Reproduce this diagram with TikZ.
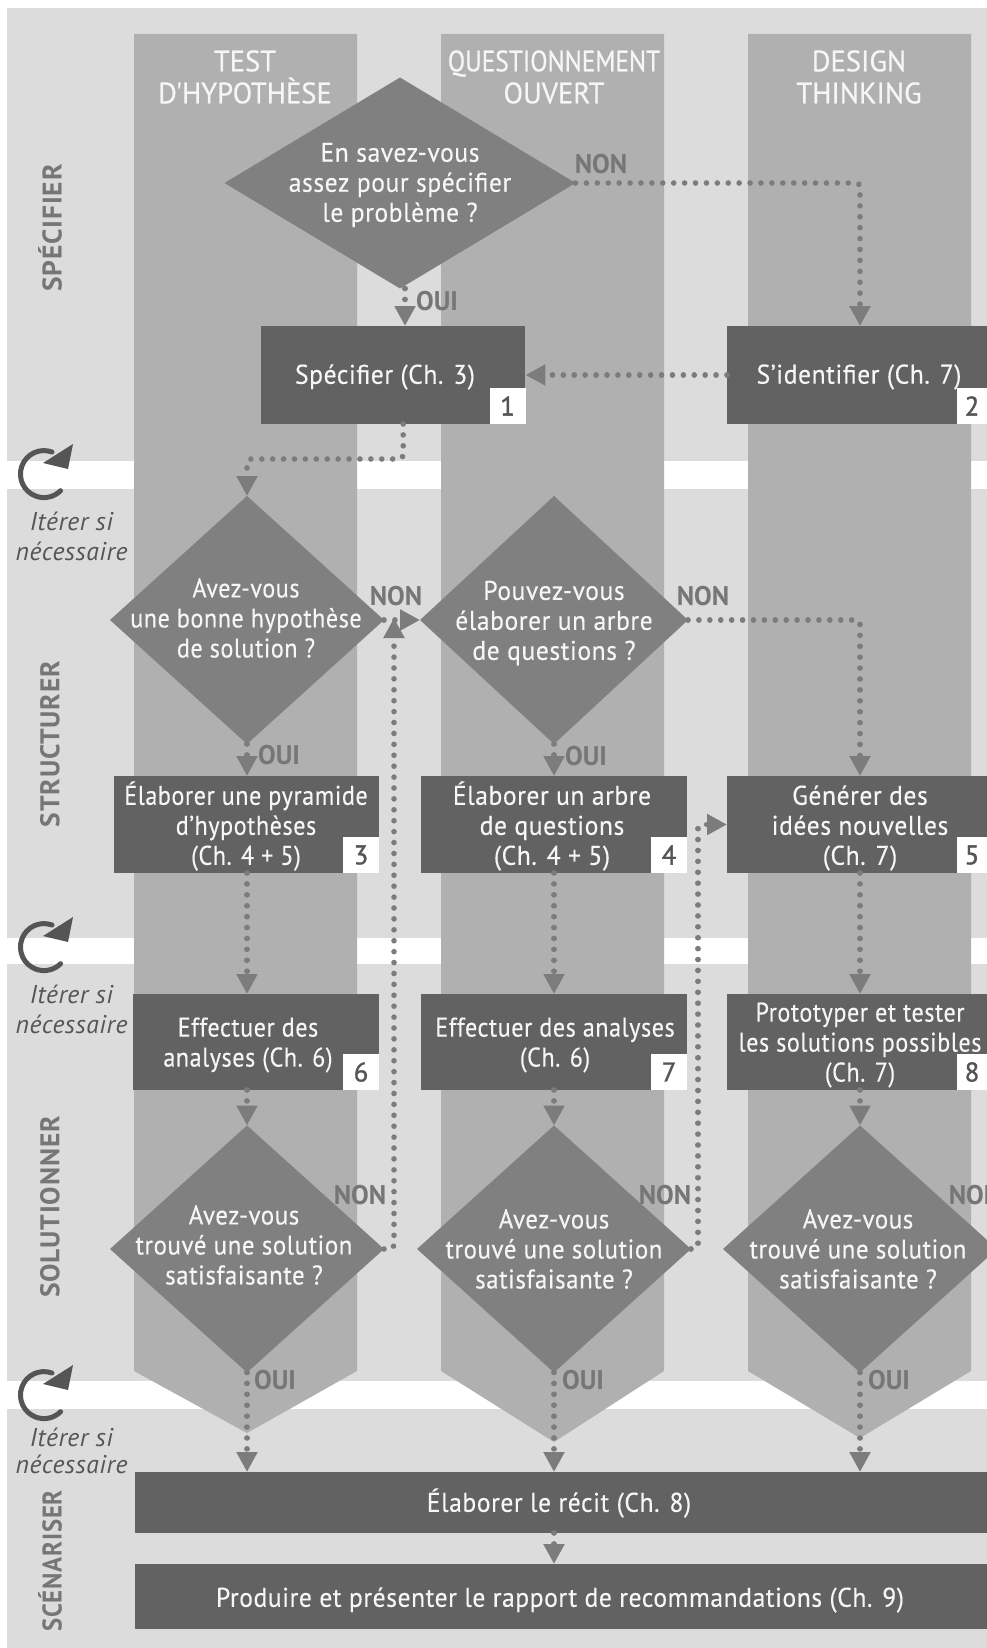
\documentclass[tikz,border=0pt]{standalone}
\usepackage{fontspec}
\setmainfont{PT Sans}[LetterSpace=2.0,FakeStretch=0.95,FakeBold=0.25]
\newfontfamily\nfont{PT Sans}[LetterSpace=2.0,FakeStretch=0.895,FakeBold=0.25]
\newfontfamily\mfont{PT Sans}[LetterSpace=2.0,FakeStretch=0.925,FakeBold=0.25]
\newfontfamily\hdfont{PT Sans}[FakeStretch=0.97,FakeBold=0.6]
\newfontfamily\hdnarrow{PT Sans}[FakeStretch=0.86,FakeBold=0.6]
\newfontfamily\sidefont{PT Sans Bold}[FakeStretch=1.02,LetterSpace=3]
\newfontfamily\sidenarrow{PT Sans Bold}[FakeStretch=0.92,LetterSpace=3]
\newfontfamily\yesnofont{PT Sans Bold}[FakeStretch=0.98]
\newfontfamily\numfont{PT Sans}[FakeBold=1.2]
\newfontfamily\iterfont{PT Sans}[LetterSpace=2]
\usetikzlibrary{shapes.geometric,arrows.meta,calc}
\definecolor{bandc}{HTML}{DCDCDC}
\definecolor{colc}{HTML}{B0B0B0}
\definecolor{diac}{HTML}{808080}
\definecolor{boxc}{HTML}{626262}
\definecolor{flowc}{HTML}{7C7C7C}
\definecolor{sidec}{HTML}{767676}
\definecolor{inkc}{HTML}{555555}
\definecolor{whitec}{HTML}{F6F6F6}
\tikzset{
  band/.style={fill=bandc,draw=none},
  lane/.style={fill=colc,draw=none},
  dia/.style={diamond,fill=diac,draw=none,inner sep=0pt,outer sep=0pt},
  boxn/.style={rectangle,fill=boxc,draw=none,inner sep=0pt,outer sep=0pt},
  numb/.style={rectangle,fill=white,draw=none,inner sep=0pt,outer sep=0pt,text=inkc,font=\numfont\fontsize{27}{27}\selectfont},
  txt/.style={text=whitec,align=center,inner sep=0pt,yshift=-2pt,font=\fontsize{27}{30}\selectfont},
  txtn/.style={txt,font=\nfont\fontsize{27}{30}\selectfont},
  txtm/.style={txt,font=\mfont\fontsize{27}{30}\selectfont},
  head/.style={text=whitec,align=center,inner sep=0pt,font=\hdfont\fontsize{29.5}{32}\selectfont},
  side/.style={text=sidec,rotate=90,inner sep=0pt,font=\sidefont\fontsize{27}{27}\selectfont},
  yn/.style={text=sidec,inner sep=0pt,font=\yesnofont\fontsize{27}{27}\selectfont},
  iterlab/.style={text=inkc,align=center,inner sep=0pt,font=\iterfont\itshape\fontsize{25.7}{30}\selectfont},
  flow/.style={draw=flowc,line width=5.6pt,line cap=round,dash pattern=on 0.01pt off 10.9pt,rounded corners=4pt,
    -{Triangle[length=20pt,width=20pt,fill=flowc,color=flowc]}},
  itercurve/.style={draw=inkc,line width=5pt,line cap=round},
}
\newcommand{\itericon}[4]{%
  \draw[itercurve] (52,#1+452) arc[start angle=70,end angle=315,radius=23.5pt];
  \fill[inkc] (73,#1+444) -- (43,#1+463) -- (68,#1+469) -- cycle;
  \node[iterlab] (#2) at (71.5,#3) {Itérer si\\[#4]nécessaire};
}
\begin{document}
\begin{tikzpicture}[x=1pt,y=-1pt]
\path[fill=white] (0,0) rectangle (987,1648);
\clip (0,0) rectangle (987,1648);
% bands
\path[band] (7,8) rectangle (987,461);
\path[band] (7,489) rectangle (987,938);
\path[band] (7,964) rectangle (987,1381);
\path[band] (7,1409) rectangle (987,1648);
% lanes
\path[lane] (134,34) -- (357,34) -- (357,1371) -- (247,1433) -- (134,1371) -- cycle;
\path[lane] (441,34) -- (664,34) -- (664,1371) -- (554,1442) -- (441,1371) -- cycle;
\path[lane] (748,34) -- (971,34) -- (971,1371) -- (860,1438) -- (748,1371) -- cycle;
% lane headings
\node[head] (h1) at (245,77) {TEST\\D'HYPOTHÈSE};
\node[head] (h2) at (554,77) {{\hdnarrow QUESTIONNEMENT}\\OUVERT};
\node[head] (h3) at (859,77) {DESIGN\\THINKING};
% side labels
\node[side] (s1) at (50,228) {SPÉCIFIER};
\node[side] (s2) at (50,744) {STRUCTURER};
\node[side] (s3) at (50,1207) {SOLUTIONNER};
\node[side] (s4) at (50,1561) {\sidenarrow SCÉNARISER};
% iterate marks
\itericon{0}{it1}{536}{0pt}
\itericon{473}{it2}{1009}{0pt}
\itericon{921}{it3}{1451}{-3pt}
% decisions
\node[dia,minimum width=351pt,minimum height=211pt] (d0) at (400,183) {};
\node[dia,minimum width=274pt,minimum height=248pt] (d1) at (247,620) {};
\node[dia,minimum width=268pt,minimum height=248pt] (d2) at (554,620) {};
\node[dia,minimum width=274pt,minimum height=247pt] (d3) at (247,1249) {};
\node[dia,minimum width=274pt,minimum height=247pt] (d4) at (554,1249) {};
\node[dia,minimum width=274pt,minimum height=247pt] (d5) at (860,1249) {};
% process boxes
\node[boxn,minimum width=264.5pt,minimum height=98pt] (b1) at (393.2,375) {};
\node[boxn,minimum width=270pt,minimum height=98pt] (b2) at (862,375) {};
\node[boxn,minimum width=265pt,minimum height=97pt] (b3) at (246.5,824.5) {};
\node[boxn,minimum width=266pt,minimum height=97pt] (b4) at (554,824.5) {};
\node[boxn,minimum width=270pt,minimum height=97pt] (b5) at (862,824.5) {};
\node[boxn,minimum width=246pt,minimum height=96pt] (b6) at (256,1042) {};
\node[boxn,minimum width=266pt,minimum height=96pt] (b7) at (554,1042) {};
\node[boxn,minimum width=270pt,minimum height=96pt] (b8) at (862,1042) {};
\node[boxn,minimum width=860pt,minimum height=61pt] (b9) at (565,1502.5) {};
\node[boxn,minimum width=860pt,minimum height=65pt] (b10) at (565,1596.5) {};
% number tabs
\node[numb,minimum width=36pt,minimum height=36pt] (n1) at (507.5,406) {1};
\node[numb,minimum width=30pt,minimum height=36pt] (n2) at (972,406) {2};
\node[numb,minimum width=36pt,minimum height=36pt] (n3) at (361,855) {3};
\node[numb,minimum width=36pt,minimum height=36pt] (n4) at (669,855) {4};
\node[numb,minimum width=30pt,minimum height=36pt] (n5) at (972,855) {5};
\node[numb,minimum width=36pt,minimum height=36pt] (n6) at (361,1072) {6};
\node[numb,minimum width=36pt,minimum height=36pt] (n7) at (669,1072) {7};
\node[numb,minimum width=30pt,minimum height=36pt] (n8) at (972,1072) {8};
% connectors
\draw[flow] ([xshift=5pt]d0.south) -- ([xshift=5pt]d0.south |- b1.north);
\draw[flow] (d0.east) -| (b2.north -| 860,0);
\draw[flow] (b2.west) -- (b2.west -| b1.east);
\draw[flow] ([xshift=10pt]b1.south) -- ++(0,35) -| (d1.north);
\draw[flow] (d1.south) -- (d1.south |- b3.north);
\draw[flow] (d2.south) -- (d2.south |- b4.north);
\draw[flow] (d1.east) -- (d2.west);
\draw[flow] (d3.east) -| ([xshift=10pt,yshift=2pt]d1.east);
\draw[flow] (d2.east) -| (b5.north -| 860,0);
\draw[flow] (d1.south |- b3.south) -- (d1.south |- b6.north);
\draw[flow] (b4.south) -- (b7.north);
\draw[flow] (d5.north |- b5.south) -- (d5.north |- b8.north);
\draw[flow] (d1.south |- b6.south) -- (d3.north);
\draw[flow] (b7.south) -- (d4.north);
\draw[flow] (d5.north |- b8.south) -- (d5.north);
\draw[flow] (d4.east) -- ++(7,0) |- (b5.west);
\draw[flow] (d3.south) -- (d3.south |- b9.north);
\draw[flow] (d4.south) -- (d4.south |- b9.north);
\draw[flow] (d5.south) -- (d5.south |- b9.north);
\draw[flow] (d4.south |- b9.south) -- (d4.south |- b10.north);
% decision and box texts
\node[txt] (t0) at (400,183) {En savez-vous\\assez pour spécifier\\le problème ?};
\node[txtn] (t1) at (246,616) {Avez-vous\\une bonne hypothèse\\de solution ?};
\node[txt] (t2) at (554,621) {Pouvez-vous\\élaborer un arbre\\de questions ?};
\node[txtm] (t3) at (244,1243) {Avez-vous\\trouvé une solution\\satisfaisante ?};
\node[txtm] (t4) at (554,1247) {Avez-vous\\trouvé une solution\\satisfaisante ?};
\node[txtm] (t5) at (858,1247) {Avez-vous\\trouvé une solution\\satisfaisante ?};
\node[txt] (tb1) at (385,375) {Spécifier (Ch. 3)};
\node[txt] (tb2) at (859,375) {S’identifier (Ch. 7)};
\node[txtn] (tb3) at (246,824) {Élaborer une pyramide\\d’hypothèses\\(Ch. 4 + 5)};
\node[txt] (tb4) at (552,824) {Élaborer un arbre\\de questions\\(Ch. 4 + 5)};
\node[txt] (tb5) at (860,826) {Générer des\\idées nouvelles\\(Ch. 7)};
\node[txtn] (tb6) at (248,1043) {Effectuer des\\analyses (Ch. 6)};
\node[txtn] (tb7) at (555,1043) {Effectuer des analyses\\(Ch. 6)};
\node[txtn] (tb8) at (860,1043) {Prototyper et tester\\les solutions possibles\\(Ch. 7)};
\node[txt] (tb9) at (559,1501) {Élaborer le récit (Ch. 8)};
\node[txt] (tb10) at (560,1598) {Produire et présenter le rapport de recommandations (Ch. 9)};
% yes / no labels
\node[yn] (y0) at (601,164) {NON};
\node[yn] (y1) at (437,301) {OUI};
\node[yn] (y2) at (396,596) {NON};
\node[yn] (y3) at (703,596) {NON};
\node[yn] (y4) at (279,755) {OUI};
\node[yn] (y5) at (586,756) {OUI};
\node[yn] (y6) at (360,1195) {NON};
\node[yn] (y7) at (665,1195) {NON};
\node[yn] (y8) at (975,1195) {NON};
\node[yn] (y9) at (275,1380) {OUI};
\node[yn] (y10) at (583,1380) {OUI};
\node[yn] (y11) at (889,1380) {OUI};
\end{tikzpicture}
\end{document}
